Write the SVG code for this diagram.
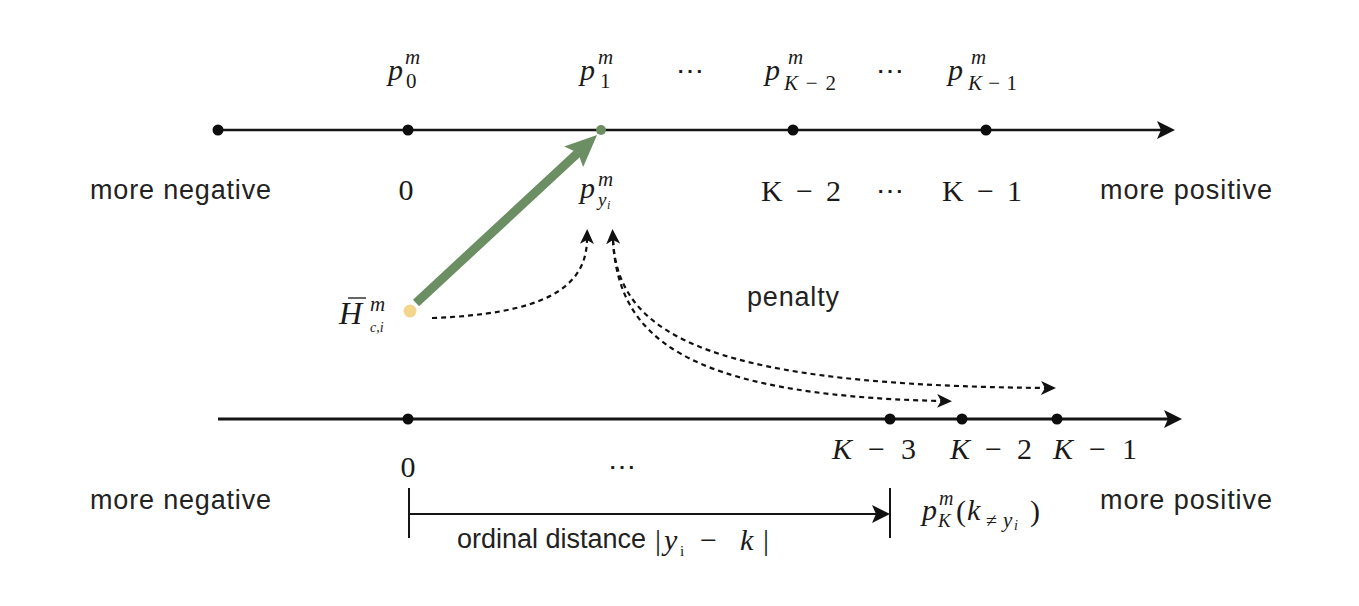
<svg xmlns="http://www.w3.org/2000/svg" width="1359" height="606" viewBox="0 0 1359 606">
<style>
.m{font-family:"Liberation Serif","DejaVu Serif",serif;fill:#1a1a1a}
.i{font-style:italic}
.L{font-size:30px}
.s{font-size:21px}
.t{font-size:14px}
.dots{font-family:"DejaVu Serif","Liberation Serif",serif;font-size:28px;fill:#1a1a1a;text-anchor:middle}
.sans{font-family:"Liberation Sans",Arial,sans-serif;font-size:27px;fill:#222}
.axis{stroke:#151515;fill:none}
.dash{stroke:#111;stroke-width:2.2;fill:none;stroke-dasharray:5 4}
.dot{fill:#0d0d0d}
</style>
<defs>
<marker id="axhead" markerUnits="userSpaceOnUse" viewBox="0 0 18 18" markerWidth="18" markerHeight="18" refX="4" refY="9" orient="auto">
<path d="M0,0 L18,9 L0,18 L4,9 Z" fill="#111"/>
</marker>
<marker id="dhead" markerUnits="userSpaceOnUse" viewBox="0 0 15 14" markerWidth="15" markerHeight="14" refX="4" refY="7" orient="auto-start-reverse">
<path d="M0,0 L15,7 L0,14 L4,7 Z" fill="#111"/>
</marker>
<marker id="ghead" markerUnits="userSpaceOnUse" viewBox="0 0 32 28" markerWidth="32" markerHeight="28" refX="6" refY="14" orient="auto">
<path d="M0,0 L32,14 L0,28 L6,14 Z" fill="#6b8e63"/>
</marker>
</defs>
<rect width="1359" height="606" fill="#fff"/>

<g id="connectors">
<path class="axis" stroke-width="2.5" d="M218,130 L1161,130" marker-end="url(#axhead)"/>
<path class="axis" stroke-width="3" d="M218,419 L1168,419" marker-end="url(#axhead)"/>
<path class="dash" d="M432,318 C540,314 586,290 587,240" marker-end="url(#dhead)"/>
<path class="dash" d="M613,240 C618,340 720,385 1045,388" marker-start="url(#dhead)" marker-end="url(#dhead)"/>
<path class="dash" d="M613,240 C618,335 680,395 941,401" marker-end="url(#dhead)"/>
<path d="M416,303 L578,152.7" stroke="#6b8e63" stroke-width="9" fill="none" marker-end="url(#ghead)"/>
<path class="axis" stroke-width="2" d="M409,488 L409,538 M890,488 L890,538"/>
<path class="axis" stroke-width="2" d="M409,514 L876,514" marker-end="url(#axhead)"/>
</g>

<g id="top-axis-nodes">
<circle class="dot" cx="218" cy="130" r="5.5"/>
<circle class="dot" cx="408" cy="130" r="5.5"/>
<circle cx="601" cy="130" r="5" fill="#6b8e63"/>
<circle class="dot" cx="793" cy="130" r="5.5"/>
<circle class="dot" cx="986" cy="130" r="5.5"/>
</g>

<g id="bottom-axis-nodes">
<circle class="dot" cx="408" cy="419" r="5.5"/>
<circle class="dot" cx="890" cy="419" r="5.5"/>
<circle class="dot" cx="962" cy="419" r="5.5"/>
<circle class="dot" cx="1057" cy="419" r="5.5"/>
</g>

<g id="embedding-node">
<circle cx="410" cy="311" r="6.5" fill="#f3d68c"/>
<text class="m i" font-size="32" x="339" y="324">H</text>
<path d="M348,298 L366,298" stroke="#333" stroke-width="1.5"/>
<text class="m i s" x="370" y="311">m</text>
<text class="m i t" x="370" y="332">c,i</text>
</g>

<g id="top-labels">
<text class="m i L" x="388" y="80">p</text>
<text class="m i s" x="405" y="64">m</text>
<text class="m s" x="406" y="88">0</text>

<text class="m i L" x="580" y="80">p</text>
<text class="m i s" x="598" y="64">m</text>
<text class="m s" x="600" y="88">1</text>

<text class="dots" x="690" y="80">⋯</text>

<text class="m i L" x="765" y="80">p</text>
<text class="m i s" x="788" y="64">m</text>
<text class="m s" x="784" y="90" textLength="52" lengthAdjust="spacing"><tspan class="i">K</tspan>−2</text>

<text class="dots" x="890" y="80">⋯</text>

<text class="m i L" x="948" y="80">p</text>
<text class="m i s" x="971" y="64">m</text>
<text class="m s" x="968" y="90" textLength="49" lengthAdjust="spacing"><tspan class="i">K</tspan>−1</text>
</g>

<g id="top-row2-labels">
<text class="sans" x="90" y="199" textLength="181" lengthAdjust="spacing">more negative</text>
<text class="m L" x="406" y="200" text-anchor="middle">0</text>
<text class="m i L" x="580" y="198">p</text>
<text class="m i s" x="598" y="186">m</text>
<text class="m i" font-size="19" x="598" y="206">y</text>
<text class="m i" font-size="12" x="607" y="209">i</text>
<text class="m L" x="801" y="201" text-anchor="middle" textLength="80" lengthAdjust="spacing">K − 2</text>
<text class="dots" x="890" y="200">⋯</text>
<text class="m L" x="982" y="201" text-anchor="middle" textLength="80" lengthAdjust="spacing">K − 1</text>
<text class="sans" x="1100" y="199" textLength="172" lengthAdjust="spacing">more positive</text>
</g>

<g id="penalty-label">
<text class="sans" x="747" y="306" textLength="92" lengthAdjust="spacing">penalty</text>
</g>

<g id="bottom-labels">
<text class="m L" x="874" y="459" text-anchor="middle" textLength="84" lengthAdjust="spacing"><tspan class="i">K</tspan> − 3</text>
<text class="m L" x="991" y="459" text-anchor="middle" textLength="82" lengthAdjust="spacing"><tspan class="i">K</tspan> − 2</text>
<text class="m L" x="1095" y="459" text-anchor="middle" textLength="84" lengthAdjust="spacing"><tspan class="i">K</tspan> − 1</text>
<text class="m L" x="408" y="477" text-anchor="middle">0</text>
<text class="dots" x="622" y="476">⋯</text>
<text class="sans" x="90" y="509" textLength="181" lengthAdjust="spacing">more negative</text>
<text class="sans" x="1100" y="509" textLength="172" lengthAdjust="spacing">more positive</text>
</g>

<g id="distance-labels">
<text class="sans" x="457" y="548">ordinal distance</text>
<text class="m L" x="655" y="550">|</text>
<text class="m i L" x="664" y="550">y</text>
<text class="m" font-size="15" x="680" y="556">i</text>
<text class="m L" x="700" y="550">−</text>
<text class="m i L" x="740" y="550">k</text>
<text class="m L" x="763" y="550">|</text>

<text class="m i L" x="922" y="520">p</text>
<text class="m i" font-size="20" x="939" y="505">m</text>
<text class="m i" font-size="19" x="938" y="527">K</text>
<text class="m L" x="956" y="521">(</text>
<text class="m i L" x="967" y="520">k</text>
<text class="m" font-size="20" x="986" y="527">≠</text>
<text class="m i" font-size="21" x="1003" y="527">y</text>
<text class="m i" font-size="14" x="1014" y="530">i</text>
<text class="m L" x="1030" y="521">)</text>
</g>
</svg>
